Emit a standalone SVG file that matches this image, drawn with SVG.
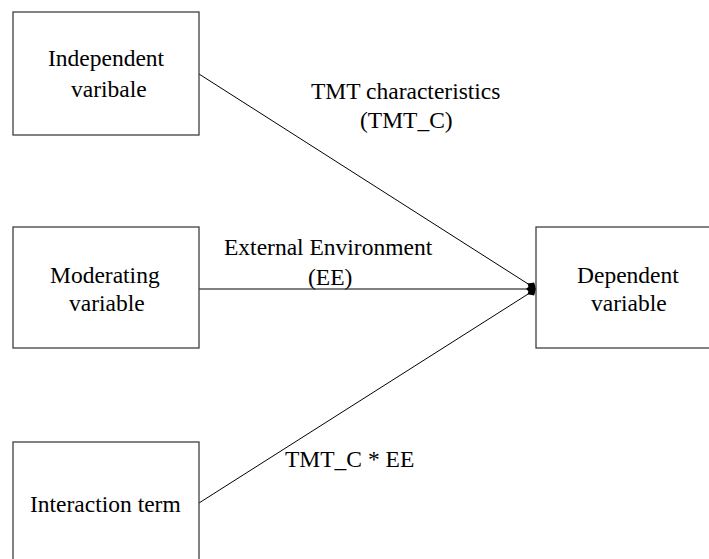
<svg xmlns="http://www.w3.org/2000/svg" width="709" height="559" viewBox="0 0 709 559">
<defs>
<marker id="dia" markerUnits="userSpaceOnUse" markerWidth="14" markerHeight="12" refX="12" refY="6" orient="auto" viewBox="0 0 14 12">
<path d="M2,6 L7,1.5 L12,6 L7,10.5 Z" fill="#000"/>
</marker>
</defs>
<rect width="709" height="559" fill="#fff"/>
<g id="connectors" stroke="#000" stroke-width="1" fill="none" marker-end="url(#dia)">
<line x1="199" y1="74" x2="536" y2="289"/>
<line x1="199" y1="289" x2="536" y2="289"/>
<line x1="199" y1="503" x2="536" y2="289"/>
</g>
<text font-family="Liberation Serif" font-size="23.5" x="311" y="99">TMT characteristics</text>
<text font-family="Liberation Serif" font-size="23.5" x="360" y="128">(TMT_C)</text>
<text font-family="Liberation Serif" font-size="23.5" x="224" y="255">External Environment</text>
<text font-family="Liberation Serif" font-size="23.5" x="308" y="285">(EE)</text>
<text font-family="Liberation Serif" font-size="23.5" x="285" y="467">TMT_C * EE</text>
<g id="independent">
<rect x="13" y="12" width="186" height="123" fill="#fff" stroke="#404040" stroke-width="1.3"/>
<text font-family="Liberation Serif" font-size="23.5" x="48" y="66">Independent</text>
<text font-family="Liberation Serif" font-size="23.5" x="71" y="97">varibale</text>
</g>
<g id="moderating">
<rect x="13" y="227" width="186" height="121" fill="#fff" stroke="#404040" stroke-width="1.3"/>
<text font-family="Liberation Serif" font-size="23.5" x="50" y="283">Moderating</text>
<text font-family="Liberation Serif" font-size="23.5" x="69" y="311">variable</text>
</g>
<g id="interaction">
<rect x="13" y="442" width="186" height="130" fill="#fff" stroke="#404040" stroke-width="1.3"/>
<text font-family="Liberation Serif" font-size="23.5" x="30" y="512">Interaction term</text>
</g>
<g id="dependent">
<rect x="536" y="227" width="190" height="121" fill="#fff" stroke="#404040" stroke-width="1.3"/>
<text font-family="Liberation Serif" font-size="23.5" x="577" y="283">Dependent</text>
<text font-family="Liberation Serif" font-size="23.5" x="591" y="311">variable</text>
</g>
</svg>
